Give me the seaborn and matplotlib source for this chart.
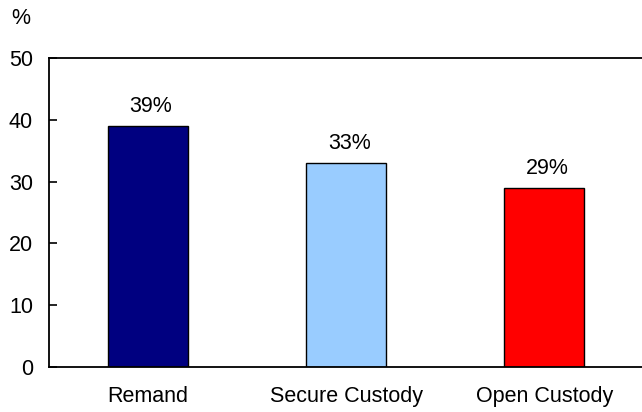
import matplotlib
matplotlib.use("Agg")
import matplotlib.pyplot as plt
import seaborn as sns
import pandas as pd

# Share by custody type (%)
categories = ["Remand", "Secure Custody", "Open Custody"]
values = [39, 33, 29]
colors = ["#000080", "#99CCFF", "#FF0000"]
y_ticks = [0, 10, 20, 30, 40, 50]

df = pd.DataFrame({"category": categories, "value": values})

sns.set_theme(style="white")
plt.rcParams["font.family"] = ["Liberation Sans", "DejaVu Sans"]

FS = 15.5

fig = plt.figure(figsize=(6.42, 4.12), dpi=100)
ax = fig.add_axes([49 / 642, 1 - 367 / 412, 1 - 49 / 642 + 0.002, (367 - 58) / 412])

sns.barplot(data=df, x="category", y="value", hue="category", palette=colors,
            legend=False, width=0.405, edgecolor="black", linewidth=1.0,
            saturation=1, ax=ax)

for i, v in enumerate(values):
    ax.text(i + 0.015, v + 2.25, f"{v}%", ha="center", va="baseline", fontsize=FS, color="black")

ax.set_xlim(-0.5, 2.5)
ax.set_ylim(0, 50)
ax.set_yticks(y_ticks)
ax.set_xlabel("")
ax.set_ylabel("")

for side in ["left", "top", "bottom"]:
    ax.spines[side].set_visible(True)
    ax.spines[side].set_color("black")
    ax.spines[side].set_linewidth(1.3)
ax.spines["right"].set_visible(False)

ax.tick_params(axis="y", direction="in", length=6, width=1.2, color="black",
               left=True, pad=11.5, labelsize=FS, labelcolor="black")
ax.tick_params(axis="x", bottom=False, pad=7.5, labelsize=FS, labelcolor="black")

fig.text(11 / 642, 1 - 19 / 412, "%", ha="left", va="center", fontsize=FS, color="black")

fig.savefig("out.png", dpi=100)
